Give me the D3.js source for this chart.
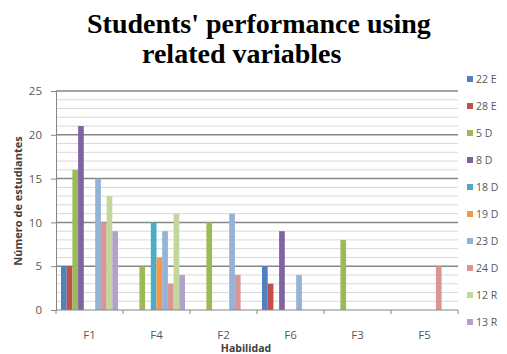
<!DOCTYPE html>
<html><head><meta charset="utf-8">
<script src="https://cdn.jsdelivr.net/npm/d3@7"></script>
<style>body{margin:0;background:#fff}svg{display:block}</style>
</head><body>
<svg id="c" width="507" height="354"></svg>
<script>
const categories = ["F1","F4","F2","F6","F3","F5"];
const seriesNames = ["22 E","28 E","5 D","8 D","18 D","19 D","23 D","24 D","12 R","13 R"];
const seriesColors = ["#4F81BD","#C0504D","#9BBB59","#8064A2","#4BACC6","#F79646","#95B3D7","#D99694","#C3D69B","#B3A2C7"];
// values per series, in order of categories
const v22E = [5,0,0,5,0,0];
const v28E = [5,0,0,3,0,0];
const v5D  = [16,5,10,0,8,0];
const v8D  = [21,0,0,9,0,0];
const v18D = [0,10,0,0,0,0];
const v19D = [0,6,0,0,0,0];
const v23D = [15,9,11,4,0,0];
const v24D = [10,3,4,0,0,5];
const v12R = [13,11,0,0,0,0];
const v13R = [9,4,0,0,0,0];
const seriesValues = [v22E,v28E,v5D,v8D,v18D,v19D,v23D,v24D,v12R,v13R];
const yTicks = [0,5,10,15,20,25];
const titleLines = ["Students' performance using","related variables"];

const svg = d3.select("#c");
const L=56,R=458,T=91,B=310;
const sans = "Open Sans, Liberation Sans, Arial, sans-serif";
const x = d3.scaleBand().domain(categories).range([L,R]);
const x1 = d3.scaleBand().domain(seriesNames).range([5, x.bandwidth()-5]);
const y = d3.scaleLinear().domain([0,25]).range([B,T]);

// minor gridlines
svg.append("g").selectAll("line").data(d3.range(1,26).filter(d=>d%5!==0)).join("line")
  .attr("x1",L).attr("x2",R).attr("y1",d=>y(d)).attr("y2",d=>y(d))
  .attr("stroke","#d9d9d9").attr("stroke-width",1);
// major gridlines
svg.append("g").selectAll("line").data(yTicks.filter(d=>d>0)).join("line")
  .attr("x1",L).attr("x2",R).attr("y1",d=>y(d)).attr("y2",d=>y(d))
  .attr("stroke","#868686").attr("stroke-width",1.5);

// bars
const gs = svg.append("g").selectAll("g").data(seriesNames).join("g").attr("fill",(d,i)=>seriesColors[i]);
gs.selectAll("rect").data((s,i)=>categories.map((c,j)=>({c,s,v:seriesValues[i][j]}))).join("rect")
  .attr("x",d=>x(d.c)+x1(d.s)).attr("width",x1.bandwidth())
  .attr("y",d=>y(d.v)).attr("height",d=>B-y(d.v));

// y axis
const ya = svg.append("g").attr("transform",`translate(${L},0)`)
  .call(d3.axisLeft(y).tickValues(yTicks).tickSize(5).tickPadding(9));
ya.select(".domain").attr("stroke","#868686");
ya.selectAll(".tick line").attr("stroke","#868686");
ya.selectAll("text").attr("font-family",sans).attr("font-size",11.5).attr("fill","#595959");

// x axis
const xa = svg.append("g").attr("transform",`translate(0,${B})`);
xa.append("line").attr("x1",L).attr("x2",R).attr("stroke","#868686");
xa.selectAll("line.t").data(categories.map(c=>x(c)).concat([R])).join("line").attr("class","t")
  .attr("x1",d=>d).attr("x2",d=>d).attr("y1",0).attr("y2",4).attr("stroke","#868686");
xa.selectAll("text").data(categories).join("text")
  .attr("x",d=>x(d)+x.bandwidth()/2).attr("y",29).attr("text-anchor","middle")
  .attr("font-family",sans).attr("font-size",11.5).attr("fill","#595959").text(d=>d);

// axis titles
svg.append("text").attr("x",L+(R-L)/2-11).attr("y",352).attr("text-anchor","middle")
  .attr("font-family",sans).attr("font-weight","bold").attr("font-size",10.5).attr("fill","#404040").text("Habilidad");
svg.append("text").attr("transform","translate(22,201) rotate(-90)").attr("text-anchor","middle")
  .attr("font-family",sans).attr("font-weight","bold").attr("font-size",11).attr("fill","#404040").text("Número de estudiantes");

// legend
const lg = svg.append("g").selectAll("g").data(seriesNames).join("g")
  .attr("transform",(d,i)=>`translate(467,${79+i*27})`);
lg.append("rect").attr("x",0).attr("y",-3).attr("width",6).attr("height",6).attr("fill",(d,i)=>seriesColors[i]);
lg.append("text").attr("x",9).attr("y",4).attr("font-family",sans)
  .attr("font-size",10.5).attr("fill","#595959").text(d=>d);

// title
svg.append("text").attr("x",87).attr("y",33).attr("font-family","Liberation Serif, Times New Roman, serif")
  .attr("font-weight","bold").attr("font-size",28).attr("fill","#000").text(titleLines[0]);
svg.append("text").attr("x",142).attr("y",63).attr("font-family","Liberation Serif, Times New Roman, serif")
  .attr("font-weight","bold").attr("font-size",28).attr("fill","#000").text(titleLines[1]);
</script>
</body></html>
